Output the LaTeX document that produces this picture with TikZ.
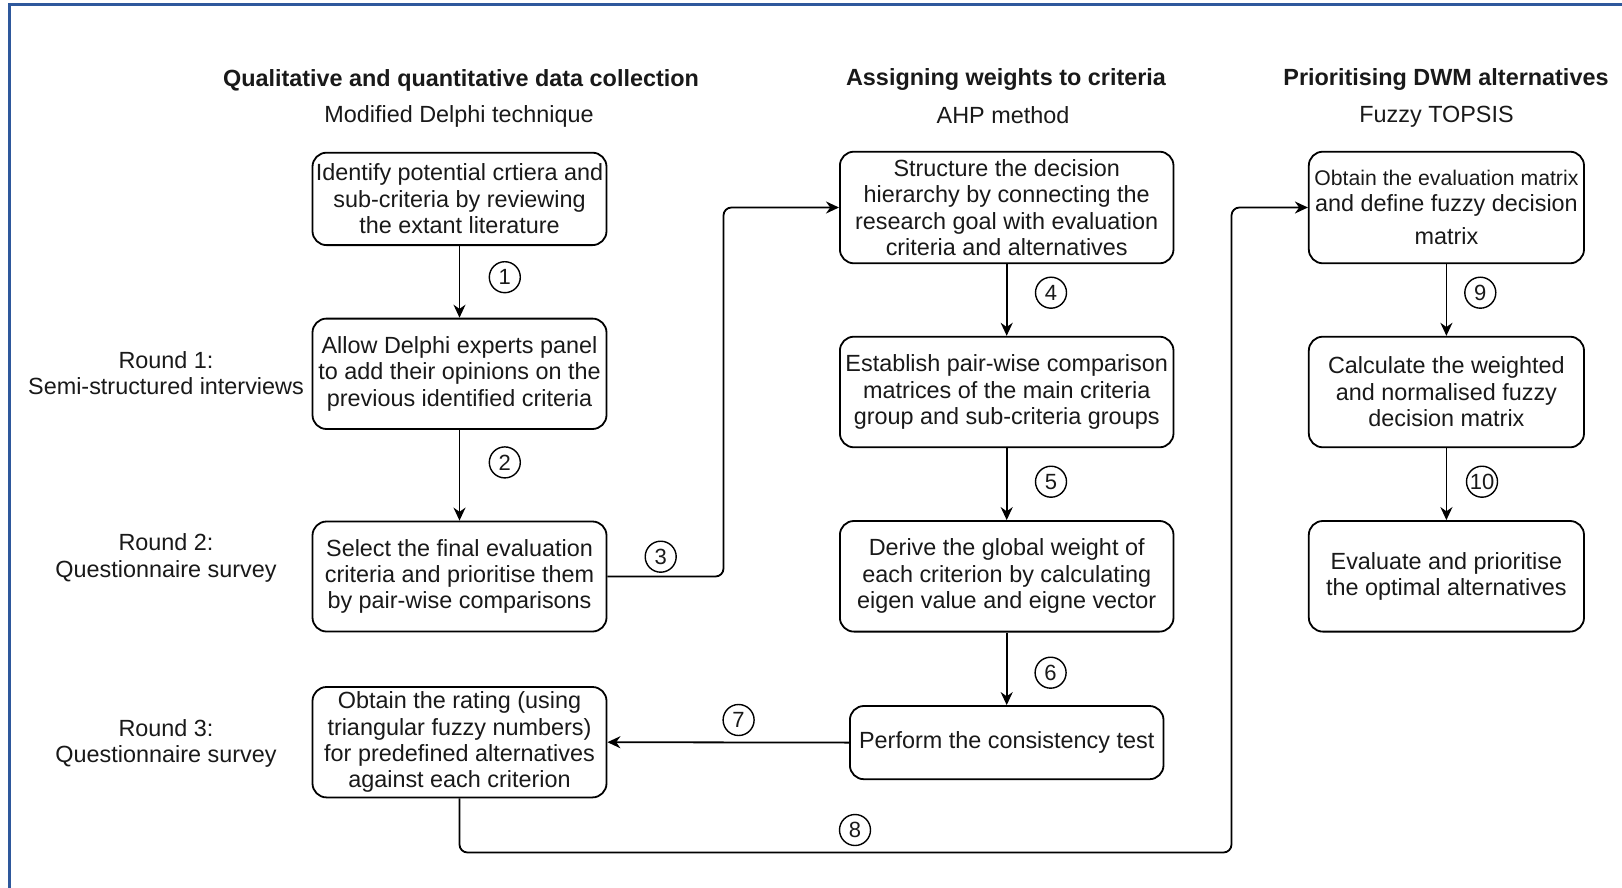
\documentclass[tikz,border=0pt]{standalone}
\usepackage{fontspec}
\setmainfont{Liberation Sans}
\usetikzlibrary{arrows.meta,calc}
\definecolor{frameblue}{RGB}{46,88,156}
\definecolor{txt}{RGB}{25,25,25}
\begin{document}
\begin{tikzpicture}[x=0.5pt,y=-0.5pt,
  font=\fontsize{11.7}{13.2}\selectfont, text=txt,
  box/.style={draw=black, rounded corners=7pt, line width=0.9pt, align=center, inner sep=0pt},
  conn/.style={draw=black, line width=0.9pt, -{Stealth[length=6.5pt,width=6pt]}, rounded corners=4pt},
  num/.style={circle, draw=black, line width=0.7pt, minimum size=15.5pt, inner sep=0pt, font=\fontsize{11}{12}\selectfont},
  head/.style={font=\fontsize{11.7}{13.2}\selectfont\bfseries},
  lab/.style={align=center}]
\useasboundingbox (0,0) rectangle (1622,888);
\fill[white] (0,0) rectangle (1622,888);
\draw[frameblue, line width=1.5pt] (9,888) -- (9,5) -- (1622,5);

% headers
\node[head] (h1) at (461,80) {Qualitative and quantitative data collection};
\node (s1) at (459,116.7) {Modified Delphi technique};
\node[head] (h2) at (1006,80) {Assigning weights to criteria};
\node (s2) at (1003,115) {AHP method};
\node[head] (h3) at (1446,80) {Prioritising DWM alternatives};
\node (s3) at (1436.5,116.7) {Fuzzy TOPSIS};

% round labels
\node[lab] (r1) at (166,373) {Round 1:\\Semi-structured interviews};
\node[lab] (r2) at (166,558) {Round 2:\\Questionnaire survey};
\node[lab] (r3) at (166,743.7) {Round 3:\\Questionnaire survey};

% column 1
\node[box, minimum width=147pt, minimum height=46.2pt] (A1) at (459.5,198.9)
  {Identify potential crtiera and\\sub-criteria by reviewing\\the extant literature};
\node[box, minimum width=147pt, minimum height=55.2pt] (A2) at (459.5,373.8)
  {Allow Delphi experts panel\\to add their opinions on the\\previous identified criteria};
\node[box, minimum width=147pt, minimum height=55pt] (A3) at (459.5,576.5)
  {Select the final evaluation\\criteria and prioritise them\\by pair-wise comparisons};
\node[box, minimum width=147pt, minimum height=55.2pt] (A4) at (459.5,742.2)
  {Obtain the rating (using\\triangular fuzzy numbers)\\for predefined alternatives\\against each criterion};

% column 2
\node[box, minimum width=166.8pt, minimum height=55.8pt] (B1) at (1006.7,207.5)
  {Structure the decision\\hierarchy by connecting the\\research goal with evaluation\\criteria and alternatives};
\node[box, minimum width=166.8pt, minimum height=55.3pt] (B2) at (1006.7,392)
  {Establish pair-wise comparison\\matrices of the main criteria\\group and sub-criteria groups};
\node[box, minimum width=166.8pt, minimum height=55.3pt] (B3) at (1006.7,576.3)
  {Derive the global weight of\\each criterion by calculating\\eigen value and eigne vector};
\node[box, minimum width=156.8pt, minimum height=36.6pt] (B4) at (1006.7,742.6)
  {Perform the consistency test};

% column 3
\node[box, minimum width=137.6pt, minimum height=55.8pt] (C1) at (1446.4,207.5)
  {\fontsize{10.6}{13}\selectfont Obtain the evaluation matrix\\and define fuzzy decision\\[3.5pt]matrix};
\node[box, minimum width=137.6pt, minimum height=55.3pt] (C2) at (1446.4,392)
  {Calculate the weighted\\and normalised fuzzy\\decision matrix};
\node[box, minimum width=137.6pt, minimum height=55.3pt] (C3) at (1446.4,576.3)
  {Evaluate and prioritise\\the optimal alternatives};

% joints
\coordinate (j3) at (723.5,400);
\coordinate (j8) at (1231.5,852.5);

% connectors
\draw[conn] (A1.south) -- (A2.north);
\draw[conn] (A2.south) -- (A3.north);
\draw[conn] (A3.east) -- (A3.east -| j3) -- (j3 |- B1.west) -- (B1.west);
\draw[conn] (B1.south) -- (B2.north);
\draw[conn] (B2.south) -- (B3.north);
\draw[conn] (B3.south) -- (B4.north);
\draw[conn] (B4.west) -- (A4.east);
\draw[conn] (A4.south) -- (A4.south |- j8) -- (j8) -- (j8 |- C1.west) -- (C1.west);
\draw[conn] (C1.south) -- (C2.north);
\draw[conn] (C2.south) -- (C3.north);

% step numbers
\node[num] (n1) at (504.8,277.2) {1};
\node[num] (n2) at (504.8,462.4) {2};
\node[num] (n3) at (660.7,556.7) {3};
\node[num] (n4) at (1051,292.7) {4};
\node[num] (n5) at (1051,481.7) {5};
\node[num] (n6) at (1050.6,672.7) {6};
\node[num] (n7) at (738.6,720) {7};
\node[num] (n8) at (855,830) {8};
\node[num] (n9) at (1480.3,292.7) {9};
\node[num] (n10) at (1482,481.7) {10};
\end{tikzpicture}
\end{document}
